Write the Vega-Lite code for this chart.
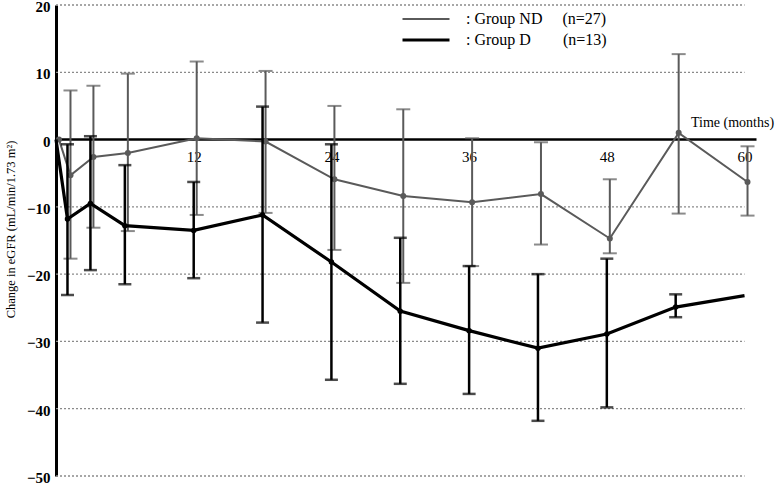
{
  "$schema": "https://vega.github.io/schema/vega-lite/v6.json",
  "width": 700,
  "height": 471,
  "autosize": "none",
  "padding": {"left": 56, "top": 5, "right": 22, "bottom": 9},
  "background": "white",
  "config": {
    "view": {"stroke": null},
    "font": "Liberation Serif"
  },
  "datasets": {
    "series": [
      {"group": "ND", "month": 0, "value": 0, "low": null, "high": null},
      {"group": "ND", "month": 1, "value": -5.3, "low": -17.7, "high": 7.3},
      {"group": "ND", "month": 3, "value": -2.6, "low": -13.1, "high": 8.0},
      {"group": "ND", "month": 6, "value": -2.0, "low": -13.6, "high": 9.8},
      {"group": "ND", "month": 12, "value": 0.2, "low": -11.2, "high": 11.6},
      {"group": "ND", "month": 18, "value": -0.3, "low": -10.9, "high": 10.2},
      {"group": "ND", "month": 24, "value": -5.9, "low": -16.4, "high": 5.0},
      {"group": "ND", "month": 30, "value": -8.4, "low": -21.3, "high": 4.5},
      {"group": "ND", "month": 36, "value": -9.3, "low": -18.8, "high": 0.2},
      {"group": "ND", "month": 42, "value": -8.1, "low": -15.6, "high": -0.4},
      {"group": "ND", "month": 48, "value": -14.7, "low": -16.9, "high": -5.9},
      {"group": "ND", "month": 54, "value": 1.0, "low": -11.0, "high": 12.7},
      {"group": "ND", "month": 60, "value": -6.3, "low": -11.3, "high": -1.0},
      {"group": "D", "month": 0, "value": 0, "low": null, "high": null},
      {"group": "D", "month": 1, "value": -11.8, "low": -23.1, "high": -0.7},
      {"group": "D", "month": 3, "value": -9.5, "low": -19.4, "high": 0.5},
      {"group": "D", "month": 6, "value": -12.8, "low": -21.5, "high": -3.8},
      {"group": "D", "month": 12, "value": -13.5, "low": -20.6, "high": -6.3},
      {"group": "D", "month": 18, "value": -11.2, "low": -27.2, "high": 4.9},
      {"group": "D", "month": 24, "value": -18.2, "low": -35.7, "high": -0.7},
      {"group": "D", "month": 30, "value": -25.5, "low": -36.3, "high": -14.6},
      {"group": "D", "month": 36, "value": -28.4, "low": -37.8, "high": -18.8},
      {"group": "D", "month": 42, "value": -31.0, "low": -41.8, "high": -20.0},
      {"group": "D", "month": 48, "value": -28.9, "low": -39.8, "high": -17.7},
      {"group": "D", "month": 54, "value": -24.9, "low": -26.4, "high": -23.0},
      {"group": "D", "month": 60, "value": -23.2, "low": null, "high": null}
    ],
    "levels": [
      {"level": 20, "start": 0, "end": 60}, {"level": 10, "start": 0, "end": 60},
      {"level": -10, "start": 0, "end": 60}, {"level": -20, "start": 0, "end": 60},
      {"level": -30, "start": 0, "end": 60}, {"level": -40, "start": 0, "end": 60},
      {"level": -50, "start": 0, "end": 60}
    ]
  },
  "encoding": {
    "x": {
      "field": "month", "type": "quantitative",
      "scale": {"domain": [0, 61], "nice": false, "zero": false},
      "axis": {
        "orient": "bottom", "offset": -337,
        "values": [12, 24, 36, 48, 60],
        "grid": false, "ticks": false,
        "domainColor": "#000000", "domainWidth": 2.5,
        "labelFont": "Liberation Serif", "labelFontSize": 15, "labelColor": "#000000",
        "labelPadding": 10,
        "title": "Time (months)", "titleFont": "Liberation Serif", "titleFontSize": 14,
        "titleFontWeight": "normal", "titleColor": "#000000",
        "titleX": 676, "titleY": -17, "titleAlign": "center", "titleBaseline": "middle"
      }
    },
    "y": {
      "field": "value", "type": "quantitative",
      "scale": {"domain": [-50, 20], "nice": false, "zero": false},
      "axis": {
        "values": [20, 10, 0, -10, -20, -30, -40, -50],
        "grid": false, "ticks": false,
        "domainColor": "#000000", "domainWidth": 3,
        "labelFont": "Liberation Serif", "labelFontSize": 15, "labelFontWeight": "bold",
        "labelColor": "#000000", "labelPadding": 6, "labelOffset": 1.5,
        "title": "Change in eGFR  (mL/min/1.73 m²)", "titleFont": "Liberation Serif",
        "titleFontSize": 12.5, "titleFontWeight": "normal", "titleColor": "#000000",
        "titleAngle": -90, "titleX": -46, "titleY": 224, "titleAlign": "center", "titleBaseline": "middle"
      }
    }
  },
  "layer": [
    {
      "data": {"name": "levels"},
      "mark": {"type": "rule", "color": "#8a8a8a", "strokeWidth": 1.3, "strokeDash": [2, 2]},
      "encoding": {
        "x": {"field": "start", "type": "quantitative"},
        "x2": {"field": "end"},
        "y": {"field": "level", "type": "quantitative"}
      }
    },
    {
      "data": {"name": "series"},
      "transform": [{"filter": "datum.group == 'ND' && isValid(datum.low)"}],
      "mark": {"type": "errorbar", "ticks": {"size": 14, "thickness": 2, "xOffset": 3, "color": "#5a5a5a"}, "rule": {"strokeWidth": 2, "xOffset": 3, "color": "#5a5a5a"}},
      "encoding": {
        "y": {"field": "low", "type": "quantitative", "title": null},
        "y2": {"field": "high"}
      }
    },
    {
      "data": {"name": "series"},
      "transform": [{"filter": "datum.group == 'ND'"}],
      "mark": {"type": "line", "xOffset": 3},
      "encoding": {
        "color": {"field": "group", "type": "nominal",
          "scale": {"domain": ["ND", "D"], "range": ["#5a5a5a", "#000000"]},
          "legend": {
            "orient": "none", "legendX": 362, "legendY": 6, "title": null,
            "symbolType": "M-4.7,0H4.7", "symbolSize": 100,
            "labelOffset": 32, "labelFont": "Liberation Serif", "labelFontSize": 16,
            "labelColor": "#000000", "rowPadding": 5, "padding": 0,
            "labelExpr": "datum.label == 'ND' ? ': Group ND\u00a0\u00a0\u00a0\u00a0\u00a0(n=27)' : ': Group D\u00a0\u00a0\u00a0\u00a0\u00a0\u00a0\u00a0\u00a0(n=13)'"
          }},
        "strokeWidth": {"field": "group", "type": "nominal",
          "scale": {"domain": ["ND", "D"], "range": [2, 3.2]}}
      }
    },
    {
      "data": {"name": "series"},
      "transform": [{"filter": "datum.group == 'ND'"}],
      "mark": {"type": "circle", "size": 36, "opacity": 1, "color": "#5a5a5a", "xOffset": 3}
    },
    {
      "data": {"name": "series"},
      "transform": [{"filter": "datum.group == 'D' && isValid(datum.low)"}],
      "mark": {"type": "errorbar", "ticks": {"size": 13, "thickness": 2.5, "color": "#000000"}, "rule": {"strokeWidth": 2.5, "color": "#000000"}},
      "encoding": {
        "y": {"field": "low", "type": "quantitative", "title": null},
        "y2": {"field": "high"}
      }
    },
    {
      "data": {"name": "series"},
      "transform": [{"filter": "datum.group == 'D'"}],
      "mark": {"type": "line"},
      "encoding": {
        "color": {"field": "group", "type": "nominal"},
        "strokeWidth": {"field": "group", "type": "nominal"}
      }
    },
    {
      "data": {"name": "series"},
      "transform": [{"filter": "datum.group == 'D' && datum.month > 0 && datum.month < 60"}],
      "mark": {"type": "circle", "size": 30, "opacity": 1, "color": "#000000"}
    }
  ]
}
